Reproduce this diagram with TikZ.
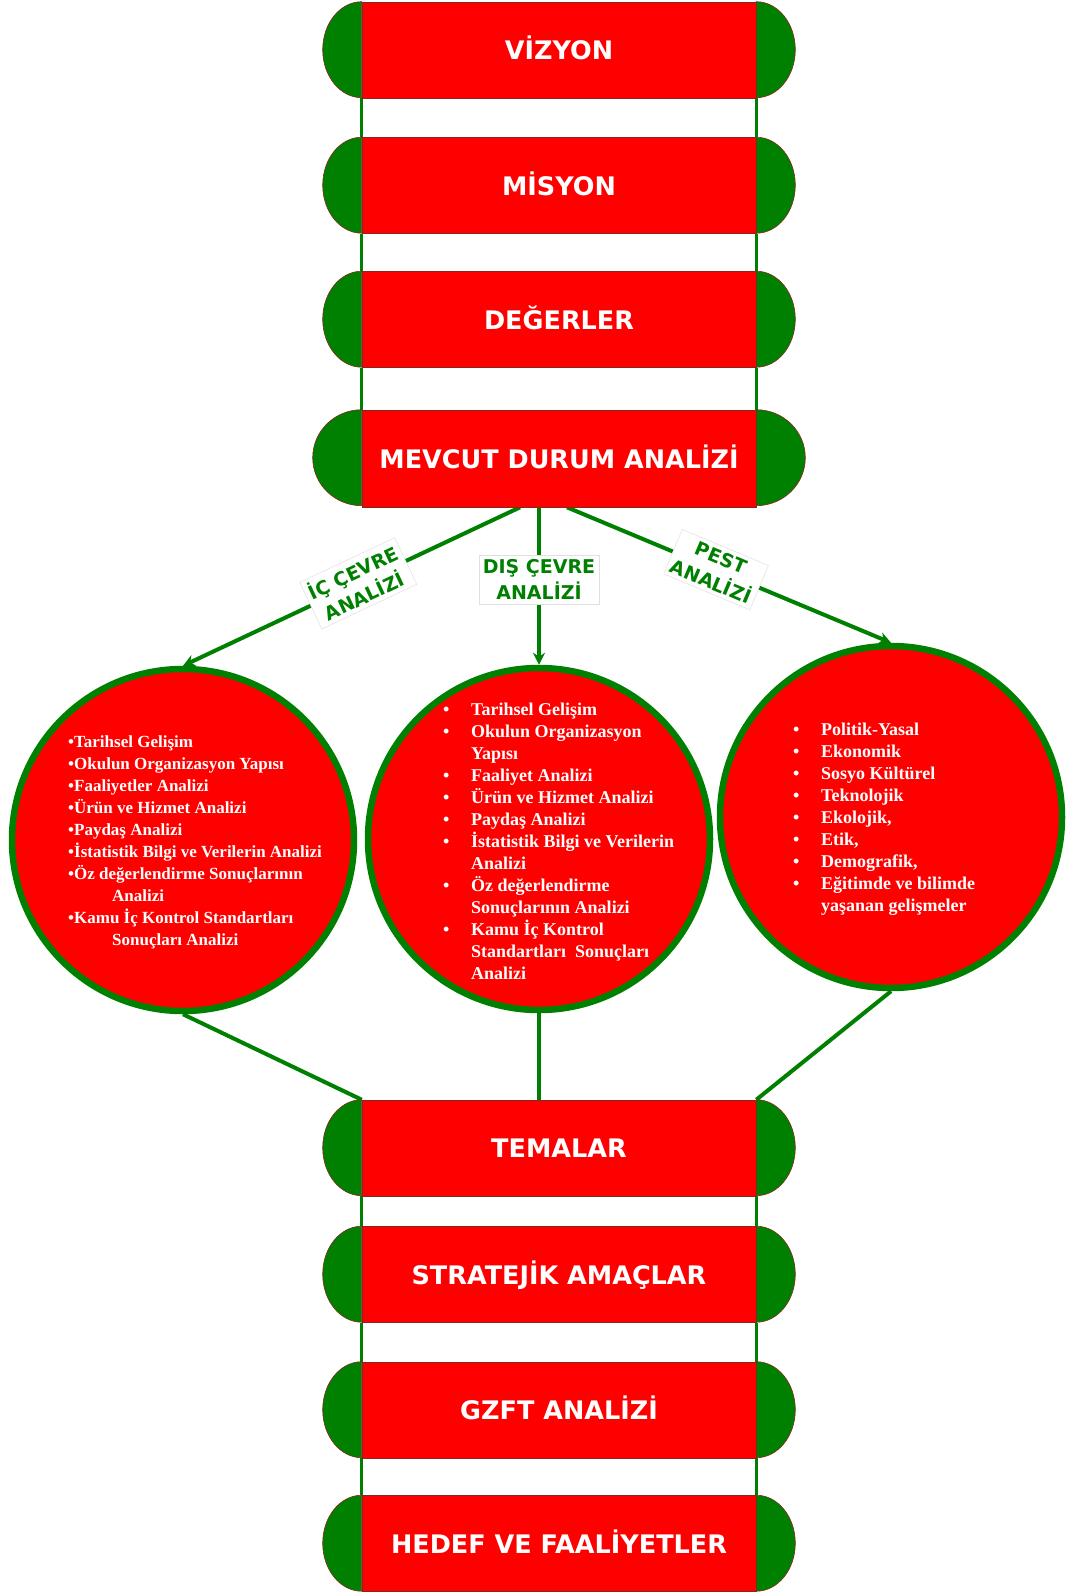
\documentclass[tikz,border=0pt]{standalone}
\usepackage{fontspec}
\setmainfont{Liberation Serif}
\newfontfamily\boxfont{DejaVu Sans}
\usepackage{tikz}
\usetikzlibrary{arrows.meta}
\pgfdeclarelayer{bglayer}
\pgfdeclarelayer{edgelayer}
\pgfdeclarelayer{nodelayer}
\pgfsetlayers{bglayer,edgelayer,nodelayer,main}
\definecolor{flagred}{RGB}{255,0,0}
\definecolor{flaggreen}{RGB}{0,128,0}
\definecolor{capline}{RGB}{130,40,30}
\tikzstyle{red_box}=[rectangle,fill=flagred,draw=capline,line width=0.6pt,minimum width=394pt,minimum height=96pt,inner sep=0pt,text height=19pt,text depth=0pt,text=white,font={\boxfont\bfseries\fontsize{25.5}{30}\selectfont}]
\tikzstyle{green_cap}=[fill=flaggreen,draw=capline,line width=0.6pt]
\tikzstyle{list_circle}=[circle,fill=flagred,draw=flaggreen,line width=6.5pt,minimum size=342pt,inner sep=0pt]
\tikzstyle{list_text}=[text=white,align=left,inner sep=0pt,anchor=west,font={\bfseries\fontsize{18}{22}\selectfont}]
\tikzstyle{edge_label}=[fill=white,draw=black!12,line width=0.5pt,text=flaggreen,align=center,inner sep=4pt,font={\boxfont\bfseries\fontsize{19}{26}\selectfont}]
\tikzstyle{rail}=[-,draw=flaggreen,line width=3.5pt]
\tikzstyle{green_arrow}=[-{Stealth[length=12pt,width=12pt]},draw=flaggreen,line width=4pt]
\tikzstyle{green_link}=[-,draw=flaggreen,line width=4pt]
\newcommand{\blt}{\makebox[28pt][l]{\textbullet}}
\newcommand{\cnt}{\hspace*{28pt}}
\begin{document}
\begin{tikzpicture}[x=1pt,y=1pt]
	\begin{pgfonlayer}{bglayer}
		\path [fill=white, use as bounding box] (0, 0) rectangle (1066, -1592);
	\end{pgfonlayer}
	\begin{pgfonlayer}{nodelayer}
		\node [style={red_box}] (0) at (559, -50) {VİZYON};
		\node [style={red_box}] (1) at (559, -185.5) {MİSYON};
		\node [style={red_box}] (2) at (559, -319.5) {DEĞERLER};
		\node [style={red_box}, minimum height=97pt] (3) at (559, -458.5) {MEVCUT DURUM ANALİZİ};
		\node [style={list_circle}] (4) at (183, -840) {};
		\node [style={list_circle}] (5) at (539, -839) {};
		\node [style={list_circle}] (6) at (891, -817) {};
		\node [style={red_box}] (7) at (559, -1148) {TEMALAR};
		\node [style={red_box}] (8) at (559, -1274.5) {STRATEJİK AMAÇLAR};
		\node [style={red_box}] (9) at (559, -1410) {GZFT ANALİZİ};
		\node [style={red_box}] (10) at (559, -1543.5) {HEDEF VE FAALİYETLER};
		\foreach \n/\r in {0/39, 1/39, 2/39, 3/49, 7/39, 8/39, 9/39, 10/39} {
			\draw [style=green_cap] (\n.north east) arc [start angle=90, end angle=-90, x radius=\r, y radius=48] -- cycle;
			\draw [style=green_cap] (\n.north west) arc [start angle=90, end angle=270, x radius=\r, y radius=48] -- cycle;
		}
		\node [style={list_text}, font={\bfseries\fontsize{17}{22}\selectfont}] (11) at ([xshift=-115pt, yshift=-2pt]4.center) {\textbullet Tarihsel Gelişim\\
			\textbullet Okulun Organizasyon Yapısı\\
			\textbullet Faaliyetler Analizi\\
			\textbullet Ürün ve Hizmet Analizi\\
			\textbullet Paydaş Analizi\\
			\textbullet İstatistik Bilgi ve Verilerin Analizi\\
			\textbullet Öz değerlendirme Sonuçlarının\\
			\hspace*{44pt}Analizi\\
			\textbullet Kamu İç Kontrol Standartları\\
			\hspace*{44pt}Sonuçları Analizi};
		\node [style={list_text}] (12) at ([xshift=-96pt, yshift=-2pt]5.center) {\blt Tarihsel Gelişim\\
			\blt Okulun Organizasyon\\
			\cnt Yapısı\\
			\blt Faaliyet Analizi\\
			\blt Ürün ve Hizmet Analizi\\
			\blt Paydaş Analizi\\
			\blt İstatistik Bilgi ve Verilerin\\
			\cnt Analizi\\
			\blt Öz değerlendirme\\
			\cnt Sonuçlarının Analizi\\
			\blt Kamu İç Kontrol\\
			\cnt Standartları\ \ Sonuçları\\
			\cnt Analizi};
		\node [style={list_text}] (13) at ([xshift=-98pt, yshift=-2pt]6.center) {\blt Politik-Yasal\\
			\blt Ekonomik\\
			\blt Sosyo Kültürel\\
			\blt Teknolojik\\
			\blt Ekolojik,\\
			\blt Etik,\\
			\blt Demografik,\\
			\blt Eğitimde ve bilimde\\
			\cnt yaşanan gelişmeler};
	\end{pgfonlayer}
	\begin{pgfonlayer}{edgelayer}
		\foreach \a/\b in {0/1, 1/2, 2/3, 7/8, 8/9, 9/10} {
			\draw [style=rail] (\a.south west) to (\b.north west);
			\draw [style=rail] (\a.south east) to (\b.north east);
		}
		\draw [style=green_arrow] ([xshift=-39pt]3.south) to node [style={edge_label}, pos=0.48, sloped] {İÇ ÇEVRE\\ANALİZİ} (4.north);
		\draw [style=green_arrow] (5.north |- 3.south) to node [style={edge_label}, pos=0.46] {DIŞ ÇEVRE\\ANALİZİ} (5.north);
		\draw [style=green_arrow] ([xshift=8pt]3.south) to node [style={edge_label}, pos=0.46, sloped] {PEST\\ANALİZİ} (6.north);
		\draw [style=green_link] (4.south) to (7.north west);
		\draw [style=green_link] (5.south) to (5.south |- 7.north);
		\draw [style=green_link] (6.south) to (7.north east);
	\end{pgfonlayer}
\end{tikzpicture}
\end{document}
